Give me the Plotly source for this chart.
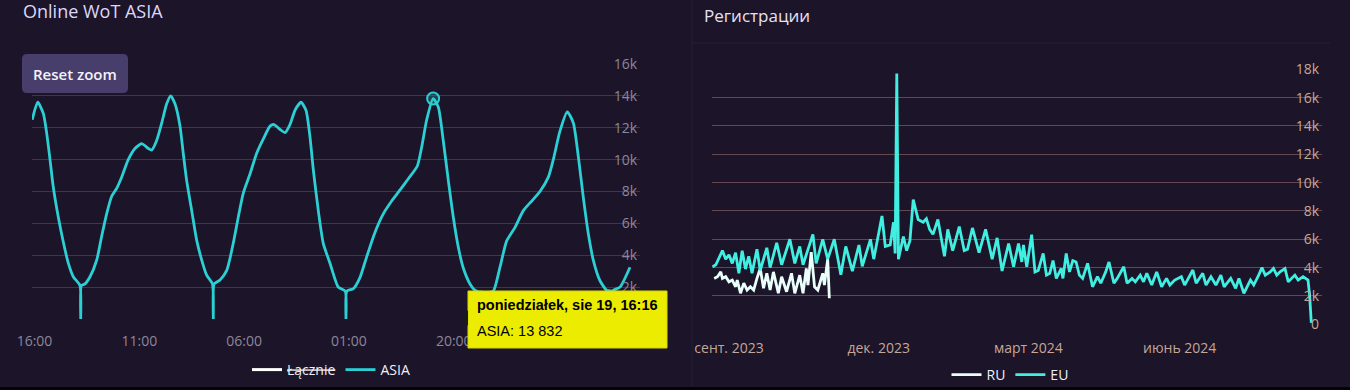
import plotly.graph_objects as go

W, H = 1350, 390

# ---------------- Left chart: Online WoT ASIA ----------------
asia_time = [
    "2024-08-16 15:36", "2024-08-16 16:35", "2024-08-16 17:36", "2024-08-16 18:13", "2024-08-16 18:49",
    "2024-08-16 19:24", "2024-08-16 20:19", "2024-08-16 21:13", "2024-08-16 22:08", "2024-08-16 23:02",
    "2024-08-17 00:15", "2024-08-17 00:23", "2024-08-17 00:30", "2024-08-17 01:09", "2024-08-17 02:04",
    "2024-08-17 03:17", "2024-08-17 04:11", "2024-08-17 05:05", "2024-08-17 06:00", "2024-08-17 06:54",
    "2024-08-17 07:48", "2024-08-17 09:00", "2024-08-17 10:13", "2024-08-17 11:26", "2024-08-17 12:38",
    "2024-08-17 13:15", "2024-08-17 14:09", "2024-08-17 15:04", "2024-08-17 15:58", "2024-08-17 16:41",
    "2024-08-17 17:28", "2024-08-17 18:23", "2024-08-17 18:58", "2024-08-17 19:35", "2024-08-17 20:30",
    "2024-08-17 21:24", "2024-08-17 22:19", "2024-08-17 23:13", "2024-08-18 00:16", "2024-08-18 00:25",
    "2024-08-18 00:34", "2024-08-18 01:38", "2024-08-18 02:51", "2024-08-18 04:02", "2024-08-18 04:57",
    "2024-08-18 05:51", "2024-08-18 07:04", "2024-08-18 08:17", "2024-08-18 09:29", "2024-08-18 10:42",
    "2024-08-18 11:25", "2024-08-18 12:30", "2024-08-18 13:25", "2024-08-18 14:19", "2024-08-18 15:14",
    "2024-08-18 16:19", "2024-08-18 17:13", "2024-08-18 17:57", "2024-08-18 18:33", "2024-08-18 19:27",
    "2024-08-18 20:21", "2024-08-18 21:34", "2024-08-18 23:04", "2024-08-19 00:20", "2024-08-19 00:28",
    "2024-08-19 00:37", "2024-08-19 01:48", "2024-08-19 03:00", "2024-08-19 04:13", "2024-08-19 05:44",
    "2024-08-19 07:14", "2024-08-19 08:45", "2024-08-19 10:16", "2024-08-19 11:46", "2024-08-19 13:24",
    "2024-08-19 14:12", "2024-08-19 15:06", "2024-08-19 16:16", "2024-08-19 17:12", "2024-08-19 18:06",
    "2024-08-19 19:01", "2024-08-19 19:55", "2024-08-19 20:50", "2024-08-19 21:44", "2024-08-19 22:57",
    "2024-08-19 23:51", "2024-08-20 00:22", "2024-08-20 00:30", "2024-08-20 00:38", "2024-08-20 01:51",
    "2024-08-20 03:10", "2024-08-20 04:23", "2024-08-20 05:36", "2024-08-20 07:07", "2024-08-20 08:37",
    "2024-08-20 10:08", "2024-08-20 11:38", "2024-08-20 13:09", "2024-08-20 14:03", "2024-08-20 15:16",
    "2024-08-20 16:35", "2024-08-20 17:41", "2024-08-20 18:35", "2024-08-20 19:29", "2024-08-20 20:24",
    "2024-08-20 21:18", "2024-08-20 22:31", "2024-08-20 23:44", "2024-08-21 00:28", "2024-08-21 00:36",
    "2024-08-21 00:44", "2024-08-21 02:08", "2024-08-21 03:57",
]
asia_value = [
    12500, 13600, 12900, 11650, 10000,
    8300, 6400, 4850, 3500, 2650,
    2100, 0, 2100, 2200, 2650,
    3700, 5200, 6600, 7700, 8200,
    8900, 10000, 10700, 11000, 10700,
    10600, 11200, 12300, 13500, 14000,
    13500, 12100, 10400, 8700, 6800,
    4950, 3700, 2750, 2200, 0,
    2200, 2450, 3050, 4750, 6400,
    7900, 9100, 10400, 11300, 12100,
    12200, 11900, 11700, 12200, 13100,
    13600, 13100, 11400, 9350, 6800,
    4750, 3500, 2000, 1750, 0,
    1750, 1900, 2600, 3900, 5450,
    6600, 7400, 8100, 8800, 9600,
    10800, 12500, 13832, 13300, 11200,
    8700, 6400, 4500, 3200, 2200,
    1800, 1700, 0, 1700, 1650,
    1750, 3250, 4900, 5750, 6800,
    7400, 8000, 8900, 10000, 11800,
    13000, 12300, 10200, 7650, 5350,
    3700, 2400, 1800, 1750, 0,
    1750, 2000, 3250,
]
hover_time = "2024-08-19 16:16"
hover_value = 13832
hover_title = "poniedziałek, sie 19, 16:16"
hover_label = "ASIA: 13 832"

lacznie_time = [None]
lacznie_value = [None]

left_xtick_vals = ["2024-08-16 16:00", "2024-08-17 11:00", "2024-08-18 06:00",
                   "2024-08-19 01:00", "2024-08-19 20:00"]
left_xtick_text = ["16:00", "11:00", "06:00", "01:00", "20:00"]
left_ytick_vals = [0, 2000, 4000, 6000, 8000, 10000, 12000, 14000, 16000]
# the "0" label sits fully under the tooltip in the reference
left_ytick_text = ["", "2k", "4k", "6k", "8k", "10k", "12k", "14k", "16k"]

# ---------------- Right chart: Регистрации ----------------
eu_date = [
    "2023-08-22", "2023-08-24", "2023-08-28", "2023-08-30", "2023-09-01", "2023-09-03", "2023-09-05",
    "2023-09-07", "2023-09-09", "2023-09-11", "2023-09-13", "2023-09-15", "2023-09-18", "2023-09-20",
    "2023-09-24", "2023-09-26", "2023-09-30", "2023-10-03", "2023-10-08", "2023-10-11", "2023-10-14",
    "2023-10-16", "2023-10-22", "2023-10-24", "2023-10-28", "2023-10-31", "2023-11-04", "2023-11-08",
    "2023-11-11", "2023-11-15", "2023-11-19", "2023-11-21", "2023-11-26", "2023-11-28", "2023-12-03",
    "2023-12-05", "2023-12-08", "2023-12-10", "2023-12-11", "2023-12-12", "2023-12-13", "2023-12-16",
    "2023-12-18", "2023-12-20", "2023-12-22", "2023-12-25", "2023-12-28", "2023-12-30", "2024-01-01",
    "2024-01-03", "2024-01-06", "2024-01-10", "2024-01-12", "2024-01-15", "2024-01-19", "2024-01-22",
    "2024-01-24", "2024-01-27", "2024-01-31", "2024-02-04", "2024-02-08", "2024-02-11", "2024-02-14",
    "2024-02-18", "2024-02-21", "2024-02-24", "2024-02-26", "2024-02-27", "2024-02-29", "2024-03-03",
    "2024-03-05", "2024-03-07", "2024-03-10", "2024-03-12", "2024-03-14", "2024-03-16", "2024-03-18",
    "2024-03-21", "2024-03-22", "2024-03-24", "2024-03-26", "2024-03-28", "2024-03-30", "2024-04-01",
    "2024-04-03", "2024-04-06", "2024-04-09", "2024-04-12", "2024-04-14", "2024-04-17", "2024-04-19",
    "2024-04-22", "2024-04-24", "2024-04-28", "2024-04-30", "2024-05-03", "2024-05-05", "2024-05-08",
    "2024-05-10", "2024-05-12", "2024-05-15", "2024-05-18", "2024-05-21", "2024-05-24", "2024-05-26",
    "2024-05-29", "2024-06-02", "2024-06-04", "2024-06-09", "2024-06-11", "2024-06-15", "2024-06-17",
    "2024-06-20", "2024-06-23", "2024-06-26", "2024-06-28", "2024-07-02", "2024-07-05", "2024-07-07",
    "2024-07-10", "2024-07-14", "2024-07-16", "2024-07-19", "2024-07-21", "2024-07-23", "2024-07-26",
    "2024-07-28", "2024-07-30", "2024-08-01", "2024-08-04", "2024-08-06", "2024-08-08", "2024-08-10",
    "2024-08-12", "2024-08-15", "2024-08-18", "2024-08-19", "2024-08-20",
]
eu_value = [
    4050, 4200, 5200, 4600, 4900, 4300, 5050,
    3600, 5200, 3900, 4800, 3600, 5300, 3800,
    5400, 4000, 5750, 4200, 6000, 4300, 5500,
    4200, 6350, 4300, 6000, 4600, 6000, 3500,
    5500, 3750, 5600, 4100, 6000, 4600, 7650,
    5500, 5600, 7200, 5000, 17700, 4600, 6200,
    5200, 5900, 8800, 7400, 7200, 7450, 6700,
    6350, 7400, 4800, 6700, 5200, 6900, 5200,
    5300, 6800, 5060, 6700, 4600, 6100, 3760,
    5700, 4060, 5700, 4400, 5600, 4060, 6330,
    3700, 3800, 5000, 3470, 3600, 4500, 3240,
    3940, 3240, 5000, 3700, 4500, 4400, 3470,
    3240, 4300, 2650, 3360, 2900, 3700, 4400,
    2900, 3240, 4060, 2900, 3240, 3000, 3470,
    3000, 3600, 2770, 3700, 2650, 3240, 2770,
    3120, 3360, 2770, 3830, 2900, 3600, 2770,
    3360, 2770, 3470, 2650, 3240, 2540, 3240,
    2190, 3120, 2770, 3470, 4000, 3470, 3700,
    3940, 3470, 3700, 3940, 3000, 3240, 3470,
    3120, 3360, 3120, 2000, 100,
]
ru_date = [
    "2023-08-23", "2023-08-25", "2023-08-27", "2023-08-28", "2023-08-30", "2023-09-01", "2023-09-03",
    "2023-09-05", "2023-09-06", "2023-09-08", "2023-09-10", "2023-09-12", "2023-09-14", "2023-09-16",
    "2023-09-18", "2023-09-20", "2023-09-22", "2023-09-24", "2023-09-26", "2023-09-28", "2023-10-01",
    "2023-10-03", "2023-10-06", "2023-10-09", "2023-10-11", "2023-10-14", "2023-10-16", "2023-10-18",
    "2023-10-19", "2023-10-21", "2023-10-23", "2023-10-25", "2023-10-28", "2023-10-29", "2023-10-31",
    "2023-11-01",
]
ru_value = [
    3240, 3360, 3700, 3240, 3360, 3000, 3120,
    2650, 3120, 2190, 2900, 2420, 2650, 2420,
    3240, 3940, 2540, 3600, 2420, 3700, 2190,
    3360, 2300, 3600, 2190, 3470, 2190, 3940,
    2770, 5100, 2650, 2420, 3600, 2770, 4600,
    1840,
]

right_xtick_vals = ["2023-09-01", "2023-12-01", "2024-03-01", "2024-06-01"]
right_xtick_text = ["сент. 2023", "дек. 2023", "март 2024", "июнь 2024"]
right_ytick_vals = [0, 2000, 4000, 6000, 8000, 10000, 12000, 14000, 16000, 18000]
right_ytick_text = ["0", "2k", "4k", "6k", "8k", "10k", "12k", "14k", "16k", "18k"]

# ---------------- Styling ----------------
BG = "#1c1428"
ASIA_C = "#2ccfd4"
EU_C = "#40efe2"
RU_C = "#eafffb"
LEFT_GRID = "#3d364d"
RIGHT_GRID = "#634852"
LEFT_TICK = "#8c879b"
RIGHT_TICK = "#c6a797"
FONT = "Open Sans"


def px(x):
    return x / W


def py(y):
    return 1 - y / H


fig = go.Figure()

fig.add_trace(go.Scatter(x=lacznie_time, y=lacznie_value, name="<s>Łącznie</s>", mode="lines",
                         line=dict(color="#ffffff", width=3), xaxis="x", yaxis="y", legend="legend",
                         hoverinfo="skip"))
fig.add_trace(go.Scatter(x=asia_time, y=asia_value, name="ASIA", mode="lines",
                         line=dict(color=ASIA_C, width=2.8, shape="spline", smoothing=0.6),
                         xaxis="x", yaxis="y", legend="legend", hoverinfo="skip"))
fig.add_trace(go.Scatter(x=[hover_time], y=[hover_value], mode="markers", showlegend=False,
                         marker=dict(size=12, color="rgba(44,207,212,0.25)",
                                     line=dict(color=ASIA_C, width=2)),
                         xaxis="x", yaxis="y", hoverinfo="skip"))

fig.add_trace(go.Scatter(x=ru_date, y=ru_value, name="RU", mode="lines",
                         line=dict(color=RU_C, width=2.8), xaxis="x2", yaxis="y2", legend="legend2",
                         hoverinfo="skip"))
fig.add_trace(go.Scatter(x=eu_date, y=eu_value, name="EU", mode="lines",
                         line=dict(color=EU_C, width=2.8), xaxis="x2", yaxis="y2", legend="legend2",
                         hoverinfo="skip"))

tickfont_l = dict(family=FONT, size=14, color=LEFT_TICK)
tickfont_r = dict(family=FONT, size=14, color=RIGHT_TICK)

shapes = []
# Right panel frame lines
shapes.append(dict(type="line", xref="paper", yref="paper", x0=px(692), x1=px(692), y0=py(0), y1=py(386),
                   line=dict(color="#271e33", width=1), layer="below"))
shapes.append(dict(type="line", xref="paper", yref="paper", x0=px(692), x1=px(1330), y0=py(43), y1=py(43),
                   line=dict(color="#271e33", width=1), layer="below"))
# bottom black band
shapes.append(dict(type="rect", xref="paper", yref="paper", x0=0, x1=1, y0=py(390), y1=py(387),
                   fillcolor="#050308", line=dict(width=0), layer="above"))

# Reset zoom button (rounded rect)
bx0, bx1, by0, by1, r = 22, 128, 54, 93, 5
path = (f"M {px(bx0 + r)} {py(by0)} L {px(bx1 - r)} {py(by0)} Q {px(bx1)} {py(by0)} {px(bx1)} {py(by0 + r)} "
        f"L {px(bx1)} {py(by1 - r)} Q {px(bx1)} {py(by1)} {px(bx1 - r)} {py(by1)} "
        f"L {px(bx0 + r)} {py(by1)} Q {px(bx0)} {py(by1)} {px(bx0)} {py(by1 - r)} "
        f"L {px(bx0)} {py(by0 + r)} Q {px(bx0)} {py(by0)} {px(bx0 + r)} {py(by0)} Z")
shapes.append(dict(type="path", xref="paper", yref="paper", path=path, fillcolor="#483e6c",
                   line=dict(width=0), layer="above"))

# Tooltip box + callout arrow
shapes.append(dict(type="rect", xref="paper", yref="paper", x0=px(468), x1=px(667), y0=py(348), y1=py(291),
                   fillcolor="#ecec00", line=dict(color="#d8d800", width=1), layer="above"))
tri = f"M {px(468)} {py(310)} L {px(462)} {py(318)} L {px(468)} {py(326)} Z"
shapes.append(dict(type="path", xref="paper", yref="paper", path=tri, fillcolor="#1a1a1a",
                   line=dict(width=0), layer="above"))

annotations = [
    dict(text="Online WoT ASIA", xref="paper", yref="paper", x=px(21), y=py(11), xanchor="left",
         yanchor="middle", showarrow=False, font=dict(family=FONT, size=18, color="#dcd8fa")),
    dict(text="Регистрации", xref="paper", yref="paper", x=px(702), y=py(16), xanchor="left",
         yanchor="middle", showarrow=False, font=dict(family=FONT, size=17, color="#e6e2f2")),
    dict(text="Reset zoom", xref="paper", yref="paper", x=px(75), y=py(74), xanchor="center",
         yanchor="middle", showarrow=False, font=dict(family=FONT, size=15, color="#f4f2f8", weight=600)),
    dict(text="<b>" + hover_title + "</b>", xref="paper", yref="paper", x=px(475), y=py(305), xanchor="left",
         yanchor="middle", showarrow=False, font=dict(family="Liberation Sans", size=14.5, color="#000000")),
    dict(text=hover_label, xref="paper", yref="paper", x=px(475), y=py(331), xanchor="left",
         yanchor="middle", showarrow=False, font=dict(family="Liberation Sans", size=14.5, color="#000000")),
]

fig.update_layout(
    width=W, height=H,
    margin=dict(l=0, r=0, t=0, b=0, pad=0, autoexpand=False),
    paper_bgcolor=BG, plot_bgcolor=BG,
    hovermode=False,
    xaxis=dict(domain=[px(32), px(640)], range=["2024-08-16 15:33", "2024-08-21 05:46"], type="date",
               anchor="y", tickvals=left_xtick_vals, ticktext=left_xtick_text, showgrid=False,
               zeroline=False, showline=False, ticks="", tickfont=tickfont_l, ticklabelstandoff=12,
               fixedrange=True, automargin=False),
    yaxis=dict(domain=[py(319), py(64)], range=[0, 16000], anchor="x", side="right",
               ticklabelposition="inside", ticklabeloverflow="allow", tickvals=left_ytick_vals,
               ticktext=left_ytick_text, showgrid=True, gridcolor=LEFT_GRID, gridwidth=1,
               zeroline=False, showline=False, tickfont=tickfont_l, fixedrange=True, automargin=False),
    xaxis2=dict(domain=[px(712), px(1322)], range=["2023-08-21 16:00", "2024-08-26 12:00"], type="date",
                anchor="y2", tickvals=right_xtick_vals, ticktext=right_xtick_text, showgrid=False,
                zeroline=False, showline=False, ticks="", tickfont=tickfont_r, ticklabelstandoff=14,
                fixedrange=True, automargin=False),
    yaxis2=dict(domain=[py(324.3), py(69.3)], range=[0, 18000], anchor="x2", side="right",
                ticklabelposition="inside", ticklabeloverflow="allow", tickvals=right_ytick_vals,
                ticktext=right_ytick_text, showgrid=True, gridcolor=RIGHT_GRID, gridwidth=1,
                zeroline=False, showline=False, tickfont=tickfont_r, fixedrange=True, automargin=False),
    legend=dict(x=px(331), y=py(370), xanchor="center", yanchor="middle", orientation="h",
                bgcolor="rgba(0,0,0,0)", font=dict(family=FONT, size=14, color="#f0f0f4"),
                itemwidth=30, tracegroupgap=0),
    legend2=dict(x=px(1010), y=py(375), xanchor="center", yanchor="middle", orientation="h",
                 bgcolor="rgba(0,0,0,0)", font=dict(family=FONT, size=14, color="#f0f0f4"),
                 itemwidth=30, tracegroupgap=0),
    shapes=shapes,
    annotations=annotations,
)

fig.write_html("out.html", config={"displayModeBar": False, "staticPlot": True})
